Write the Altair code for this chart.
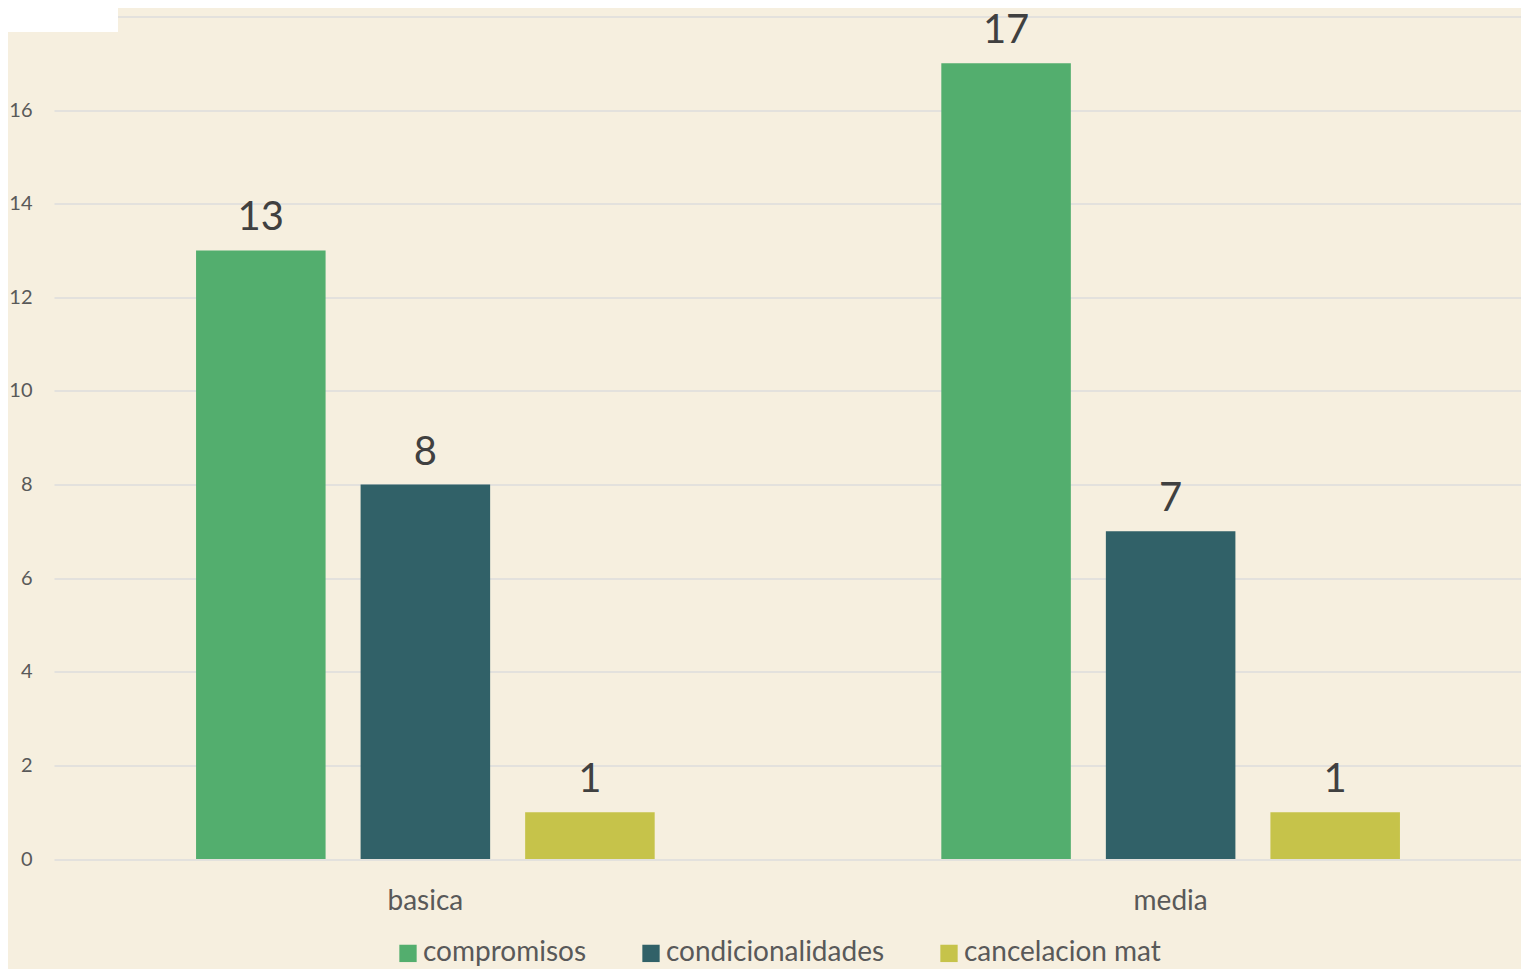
import altair as alt
import pandas as pd

levels = ["basica", "media"]
series = ["compromisos", "condicionalidades", "cancelacion mat"]
compromisos = [13, 17]
condicionalidades = [8, 7]
cancelacion_mat = [1, 1]
colors = ["#53AE6E", "#316168", "#C6C34A"]
y_ticks = [0, 2, 4, 6, 8, 10, 12, 14, 16, 18]

rows = []
for s, vals in zip(series, [compromisos, condicionalidades, cancelacion_mat]):
    for lv, v in zip(levels, vals):
        rows.append({"nivel": lv, "serie": s, "valor": v})
df = pd.DataFrame(rows)

FONT = "Lato"

base = alt.Chart(df).encode(
    x=alt.X(
        "nivel:N",
        sort=levels,
        title=None,
        scale=alt.Scale(range=[0, 1488], paddingInner=0.3846, paddingOuter=0.1906),
        axis=alt.Axis(
            labelAngle=0, labelFontSize=28, labelColor="#595959", labelFont=FONT,
            domain=False, ticks=False, labelPadding=28, grid=False,
        ),
    ),
    xOffset=alt.XOffset("serie:N", sort=series, scale=alt.Scale(paddingInner=0.2128, paddingOuter=0)),
    y=alt.Y(
        "valor:Q",
        title=None,
        scale=alt.Scale(domain=[0, 18], nice=False),
        axis=alt.Axis(
            values=y_ticks, labelFontSize=20, labelColor="#595959", labelFont=FONT,
            domain=False, ticks=False, labelPadding=22, gridColor="#DCDCDC", gridWidth=1.5,
            labelExpr="datum.value == 18 ? '' : datum.label",
        ),
    ),
)

bars = base.mark_bar().encode(
    color=alt.Color(
        "serie:N",
        sort=series,
        scale=alt.Scale(domain=series, range=colors),
        legend=alt.Legend(
            title=None, orient="none", direction="horizontal", legendX=340, legendY=923,
            symbolType="square", symbolSize=300, symbolStrokeWidth=0, labelFontSize=28,
            labelColor="#595959", labelFont=FONT, columnPadding=50, labelOffset=1,
            labelLimit=0,
        ),
    )
)

labels = base.mark_text(dy=-20, baseline="alphabetic", fontSize=40, color="#404040", font=FONT).encode(
    text=alt.Text("valor:Q")
)

white_box = alt.Chart(pd.DataFrame({"k": [0]})).mark_rect(color="white").encode(
    x=alt.value(-46), x2=alt.value(64), y=alt.value(-8.4), y2=alt.value(15.6)
)

chart = alt.layer(bars, labels, white_box).properties(
    width=1467,
    height=842.6,
    background="#F6EFDF",
    autosize=alt.AutoSizeParams(type="none"),
    padding={"left": 46, "top": 8.4, "right": 0, "bottom": 110},
).configure_view(stroke=None)

chart.save("out.html", embed_options={"renderer": "svg", "actions": False})
